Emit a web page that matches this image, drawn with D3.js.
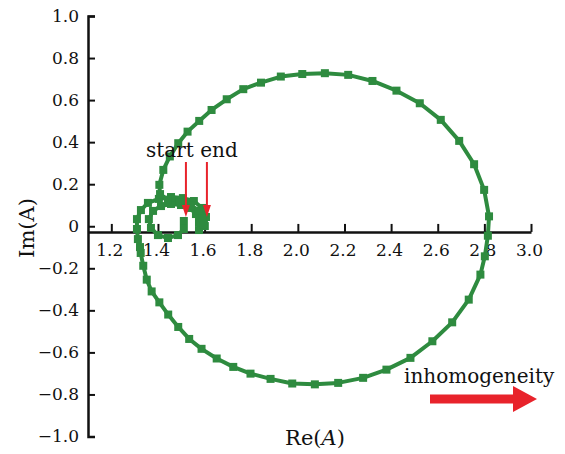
<!DOCTYPE html>
<meta charset="utf-8">
<script src="https://d3js.org/d3.v7.min.js"></script>
<style>
  body { margin: 0; background: #fff; }
  text { font-family: "DejaVu Serif", serif; fill: #111; }
</style>
<div id="chart"></div>
<script>

// small loop after the start point (Re, Im)
var spiralRe = [1.511, 1.511, 1.486, 1.443, 1.400, 1.370, 1.361, 1.379, 1.413, 1.456, 1.499, 1.537, 1.563, 1.576,
                1.576, 1.601, 1.606, 1.589, 1.554, 1.507, 1.456, 1.404, 1.357, 1.327, 1.310, 1.310, 1.314, 1.323]
var spiralIm = [0.025, -0.013, -0.042, -0.056, -0.042, -0.008, 0.034, 0.073, 0.096, 0.106, 0.101, 0.087, 0.058, 0.020,
                -0.018, 0.001, 0.044, 0.087, 0.120, 0.134, 0.139, 0.130, 0.111, 0.077, 0.034, -0.013, -0.061, -0.099]

// big loop
var loopRe = [1.326, 1.337, 1.352, 1.373, 1.406, 1.444, 1.487, 1.534, 1.587, 1.652, 1.723, 1.797, 1.883,
              1.976, 2.073, 2.173, 2.280, 2.380, 2.483, 2.577, 2.662, 2.733, 2.783, 2.802, 2.815, 2.820,
              2.799, 2.756, 2.692, 2.613, 2.523, 2.423, 2.320, 2.216, 2.116, 2.019, 1.927, 1.842, 1.766,
              1.695, 1.630, 1.577, 1.527, 1.487, 1.451, 1.423, 1.406]
var loopIm = [-0.127, -0.188, -0.254, -0.310, -0.362, -0.420, -0.479, -0.536, -0.583, -0.629, -0.669, -0.701, -0.726,
              -0.748, -0.752, -0.745, -0.721, -0.682, -0.626, -0.547, -0.457, -0.349, -0.230, -0.143, -0.045, 0.047,
              0.173, 0.295, 0.406, 0.506, 0.585, 0.645, 0.691, 0.720, 0.728, 0.724, 0.712, 0.683, 0.652,
              0.604, 0.553, 0.501, 0.450, 0.395, 0.332, 0.268, 0.197]

// over the top of the small loop to the end point
var returnRe = [1.409, 1.443, 1.494, 1.541, 1.576, 1.593, 1.597]
var returnIm = [0.153, 0.125, 0.115, 0.101, 0.073, 0.039, 0.006]

var xTicks = [1.2, 1.4, 1.6, 1.8, 2.0, 2.2, 2.4, 2.6, 2.8, 3.0]
var yTicks = [-1.0, -0.8, -0.6, -0.4, -0.2, 0, 0.2, 0.4, 0.6, 0.8, 1.0]

// arrows marking start / end (Re position)
var markRe = [1.52, 1.61]

var width = 565, height = 454

var svg = d3.select("#chart").append("svg")
  .attr("width", width)
  .attr("height", height)

var x = d3.scaleLinear().domain([1.1, 3.0]).range([88, 531])
var y = d3.scaleLinear().domain([-1, 1]).range([436.5, 16])

var fmt = function(d) { return d === 0 ? "0" : d.toFixed(1).replace("-", "\u2212") }

// x axis (sits slightly below Im = 0)
var xAxis = svg.append("g")
  .attr("transform", "translate(0," + y(-0.027) + ")")
  .call(d3.axisBottom(x).tickValues(xTicks).tickFormat(fmt)
    .tickSizeInner(-8).tickSizeOuter(0).tickPadding(12))

// y axis
var yAxis = svg.append("g")
  .attr("transform", "translate(" + x(1.1) + ",0)")
  .call(d3.axisLeft(y).tickValues(yTicks).tickFormat(fmt)
    .tickSizeInner(-7).tickSizeOuter(-7).tickPadding(9))

svg.selectAll(".domain").attr("stroke", "#111").attr("stroke-width", 2.5)
svg.selectAll(".tick line").attr("stroke", "#111").attr("stroke-width", 2)
svg.selectAll(".tick text").style("font-size", "17px").attr("fill", "#111")
xAxis.selectAll(".tick text").attr("dx", "-2")

// axis titles
var reLabel = svg.append("text")
  .attr("x", 315).attr("y", 445)
  .attr("text-anchor", "middle")
  .style("font-size", "21px")
reLabel.append("tspan").text("Re(")
reLabel.append("tspan").text("A").style("font-style", "italic")
reLabel.append("tspan").text(")")

svg.append("text")
  .attr("transform", "translate(34,228) rotate(-90)")
  .attr("text-anchor", "middle")
  .style("font-size", "21px")
  .text("Im(A)")

// curve data
var re = spiralRe.concat(loopRe, returnRe)
var im = spiralIm.concat(loopIm, returnIm)
var pts = re.map(function(d, i) { return [d, im[i]] })

var green = "#2e8b3f"

svg.append("path")
  .datum(pts)
  .attr("fill", "none")
  .attr("stroke", green)
  .attr("stroke-width", 4)
  .attr("stroke-linejoin", "round")
  .attr("d", d3.line().x(function(d) { return x(d[0]) }).y(function(d) { return y(d[1]) }))

svg.selectAll("rect.pt")
  .data(pts)
  .enter()
  .append("rect")
    .attr("class", "pt")
    .attr("x", function(d) { return x(d[0]) - 4 })
    .attr("y", function(d) { return y(d[1]) - 4 })
    .attr("width", 8)
    .attr("height", 8)
    .attr("fill", green)

// start / end annotation
var red = "#e8232b"
svg.append("text")
  .attr("x", 146).attr("y", 157)
  .style("font-size", "20px")
  .text("start end")

markRe.forEach(function(r) {
  var cx = x(r)
  svg.append("line")
    .attr("x1", cx).attr("x2", cx)
    .attr("y1", 162).attr("y2", 208)
    .attr("stroke", red).attr("stroke-width", 2)
  svg.append("path")
    .attr("d", "M" + (cx - 4) + ",205L" + (cx + 4) + ",205L" + cx + ",217Z")
    .attr("fill", red)
})

// inhomogeneity arrow
svg.append("text")
  .attr("x", 404).attr("y", 383)
  .style("font-size", "20px")
  .text("inhomogeneity")

svg.append("path")
  .attr("d", "M430,394.5L513,394.5L513,386L537,399L513,412L513,403.5L430,403.5Z")
  .attr("fill", red)

</script>
